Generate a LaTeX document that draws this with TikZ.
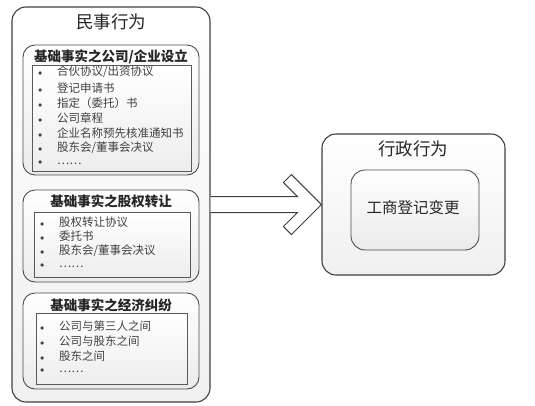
\documentclass[tikz,border=0pt]{standalone}
\usepackage{fontspec}
\setmainfont{Noto Sans CJK SC}
\usetikzlibrary{calc}

\newcommand{\blt}{\makebox[19pt][l]{\raisebox{0.3pt}{\footnotesize$\bullet$}}}

\begin{document}
\begin{tikzpicture}[x=1pt,y=-1pt,
  bigbox/.style={draw=black!75,line width=1.1pt,rounded corners=14pt,top color=white,bottom color=black!6},
  grpbox/.style={draw=black!70,line width=0.9pt,rounded corners=12pt,top color=white,bottom color=black!8},
  listbox/.style={draw=black!65,line width=0.6pt,top color=white,bottom color=black!7},
  bigtitle/.style={font=\fontsize{17.5}{20}\selectfont,text=black!85},
  grptitle/.style={font=\fontsize{13.5}{16}\selectfont\bfseries,text=black!85},
  itm/.style={anchor=west,inner sep=0pt,font=\fontsize{11.5}{13}\selectfont,text=black!75},
  arrowbody/.style={draw=black!75,line width=1pt,fill=white,line join=miter}]
\fill[white] (0,0) rectangle (535,405);
\useasboundingbox (0,0) rectangle (535,405);

% civil acts
\node[bigbox,minimum width=198pt,minimum height=395pt] (civil) at (111,204.5) {};
\node[bigtitle] (civiltitle) at (111,22) {民事行为};

% group 1
\node[grpbox,minimum width=176pt,minimum height=130pt] (setup) at (111,110) {};
\node[grptitle] (setuptitle) at (111,57) {基础事实之公司/企业设立};
\node[listbox,minimum width=159pt,minimum height=106pt] (setuplist) at (111.5,118) {};
\node[itm] (s1) at (38,72) {\blt 合伙协议/出资协议};
\node[itm] (s2) at (38,88) {\blt 登记申请书};
\node[itm] (s3) at (38,103) {\blt 指定（委托）书};
\node[itm] (s4) at (38,118) {\blt 公司章程};
\node[itm] (s5) at (38,133) {\blt 企业名称预先核准通知书};
\node[itm] (s6) at (38,148) {\blt 股东会/董事会决议};
\node[itm] (s7) at (38,163) {\blt ……};

% group 2
\node[grpbox,minimum width=176pt,minimum height=92pt] (transfer) at (111,236) {};
\node[grptitle] (transfertitle) at (111,201) {基础事实之股权转让};
\node[listbox,minimum width=156pt,minimum height=65pt] (transferlist) at (112,244.5) {};
\node[itm] (t1) at (40,222) {\blt 股权转让协议};
\node[itm] (t2) at (40,236) {\blt 委托书};
\node[itm] (t3) at (40,251) {\blt 股东会/董事会决议};
\node[itm] (t4) at (40,266) {\blt ……};

% group 3
\node[grpbox,minimum width=176pt,minimum height=96pt] (dispute) at (111,341) {};
\node[grptitle] (disputetitle) at (111,305) {基础事实之经济纠纷};
\node[listbox,minimum width=151pt,minimum height=71pt] (disputelist) at (111.5,348.5) {};
\node[itm] (d1) at (40,326) {\blt 公司与第三人之间};
\node[itm] (d2) at (40,341) {\blt 公司与股东之间};
\node[itm] (d3) at (40,356) {\blt 股东之间};
\node[itm] (d4) at (40,371) {\blt ……};

% administrative act
\node[bigbox,minimum width=183pt,minimum height=141pt] (admin) at (413.5,204.5) {};
\node[bigtitle] (admintitle) at (413,149) {行政行为};
\node[grpbox,minimum width=128pt,minimum height=80pt,rounded corners=14pt] (change) at (415,210) {};
\node[font=\fontsize{15.5}{18}\selectfont,text=black!85] (changetext) at (413,208) {工商登记变更};

% chevron arrow
\coordinate (tip) at (admin.west);
\draw[arrowbody] ($(civil.east |- tip)+(0,-8)$) -- ($(tip)+(-24,-8)$) -- ($(tip)+(-38,-22)$)
  -- ($(tip)+(-30,-30)$) -- (tip) -- ($(tip)+(-30,30)$) -- ($(tip)+(-38,22)$)
  -- ($(tip)+(-24,8)$) -- ($(civil.east |- tip)+(0,8)$);
\end{tikzpicture}
\end{document}
